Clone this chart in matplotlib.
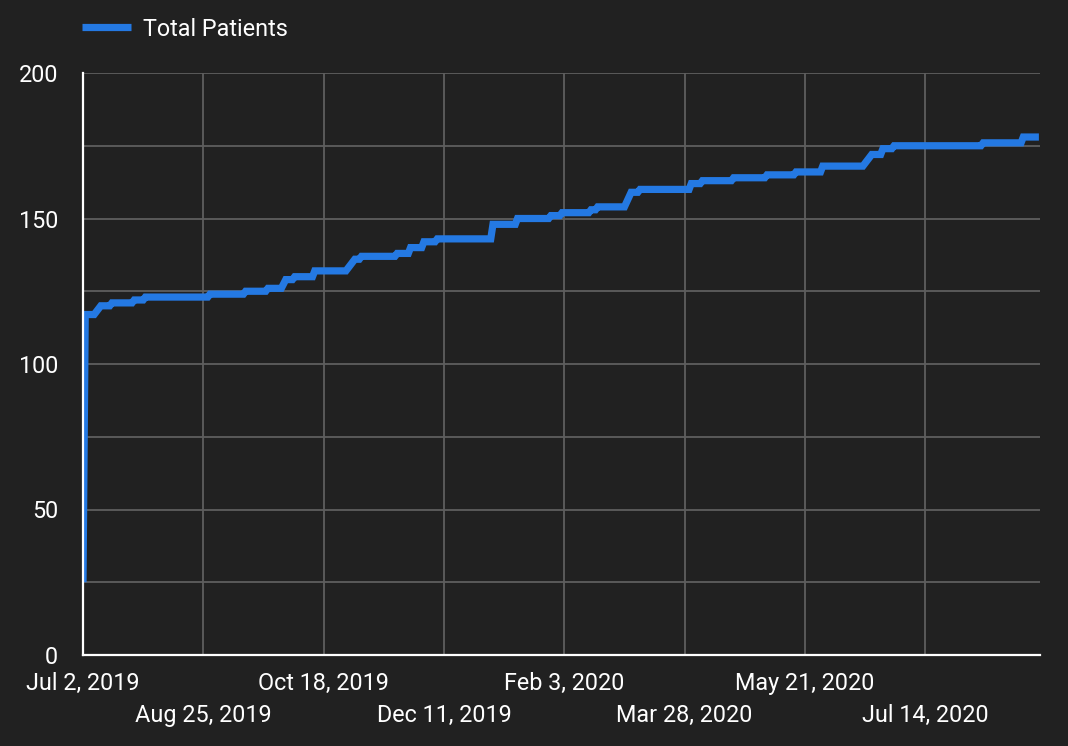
import matplotlib
matplotlib.use("Agg")
import matplotlib.pyplot as plt
import datetime as dt

# ---- data ----
dates = [
    "2019-07-02", "2019-07-03", "2019-07-07", "2019-07-10", "2019-07-14", "2019-07-15",
    "2019-07-24", "2019-07-25", "2019-07-29", "2019-07-30", "2019-08-27", "2019-08-28",
    "2019-09-12", "2019-09-13", "2019-09-22", "2019-09-23", "2019-09-29", "2019-10-01",
    "2019-10-04", "2019-10-05", "2019-10-13", "2019-10-14", "2019-10-28", "2019-11-01",
    "2019-11-03", "2019-11-04", "2019-11-19", "2019-11-20", "2019-11-25", "2019-11-26",
    "2019-12-01", "2019-12-02", "2019-12-07", "2019-12-08", "2020-01-01", "2020-01-02",
    "2020-01-12", "2020-01-13", "2020-01-27", "2020-01-28", "2020-02-01", "2020-02-02",
    "2020-02-14", "2020-02-15", "2020-02-17", "2020-02-18", "2020-03-01", "2020-03-04",
    "2020-03-07", "2020-03-08", "2020-03-30", "2020-03-31", "2020-04-04", "2020-04-05",
    "2020-04-18", "2020-04-19", "2020-05-03", "2020-05-04", "2020-05-16", "2020-05-17",
    "2020-05-28", "2020-05-29", "2020-06-16", "2020-06-20", "2020-06-24", "2020-06-25",
    "2020-06-29", "2020-06-30", "2020-08-08", "2020-08-09", "2020-08-26", "2020-08-27",
    "2020-09-03",
]
total_patients = [
    25, 117, 117, 120, 120, 121,
    121, 122, 122, 123, 123, 124,
    124, 125, 125, 126, 126, 129,
    129, 130, 130, 132, 132, 136,
    136, 137, 137, 138, 138, 140,
    140, 142, 142, 143, 143, 148,
    148, 150, 150, 151, 151, 152,
    152, 153, 153, 154, 154, 159,
    159, 160, 160, 162, 162, 163,
    163, 164, 164, 165, 165, 166,
    166, 168, 168, 172, 172, 174,
    174, 175, 175, 176, 176, 178,
    178,
]
tick_dates = ["2019-07-02", "2019-08-25", "2019-10-18", "2019-12-11",
              "2020-02-03", "2020-03-28", "2020-05-21", "2020-07-14"]
tick_labels = ["Jul 2, 2019", "Aug 25, 2019", "Oct 18, 2019", "Dec 11, 2019",
               "Feb 3, 2020", "Mar 28, 2020", "May 21, 2020", "Jul 14, 2020"]
y_ticks = [0, 25, 50, 75, 100, 125, 150, 175, 200]
y_labels = ["0", "", "50", "", "100", "", "150", "", "200"]
series_name = "Total Patients"

# ---- style ----
BG = "#212121"
GRID = "#5e5e5e"
TXT = "#ffffff"
LINE = "#2479e3"
FS = 16.8
plt.rcParams["font.family"] = ["Roboto", "DejaVu Sans"]

fig = plt.figure(figsize=(10.68, 7.46), dpi=100, facecolor=BG)
ax = fig.add_axes([83/1068, 1-655/746, (1040-83)/1068, (655-73)/746], facecolor=BG)

x = [dt.datetime.strptime(d, "%Y-%m-%d") for d in dates]
ax.plot(x, total_patients, color=LINE, lw=5.2, solid_joinstyle="miter",
        solid_capstyle="butt", label=series_name, zorder=3)

xt = [dt.datetime.strptime(d, "%Y-%m-%d") for d in tick_dates]
ax.set_xticks(xt)
ax.set_xticklabels(tick_labels)
ax.set_xlim(dt.datetime(2019, 7, 2), dt.datetime(2019, 7, 2) + dt.timedelta(days=429.5))
ax.set_yticks(y_ticks)
ax.set_yticklabels(y_labels)
ax.set_ylim(0, 200)

ax.grid(True, color=GRID, lw=1.3, zorder=0)
ax.tick_params(axis="both", length=0, colors=TXT, labelsize=FS)
ax.tick_params(axis="x", pad=12)
ax.tick_params(axis="y", pad=18)
for i, tk in enumerate(ax.xaxis.get_major_ticks()):
    if i % 2:
        tk.set_pad(35)
for s in ["top", "right"]:
    ax.spines[s].set_visible(False)
for s in ["left", "bottom"]:
    ax.spines[s].set_color("#ffffff")
    ax.spines[s].set_linewidth(1.6)
    ax.spines[s].set_zorder(4)

fig.legend(loc="center left", bbox_to_anchor=(82/1068, 1-29/746), frameon=False,
           fontsize=FS, labelcolor=TXT, handlelength=2.1, handletextpad=0.5,
           borderaxespad=0, borderpad=0)

fig.savefig("out.png", dpi=100, facecolor=BG)
